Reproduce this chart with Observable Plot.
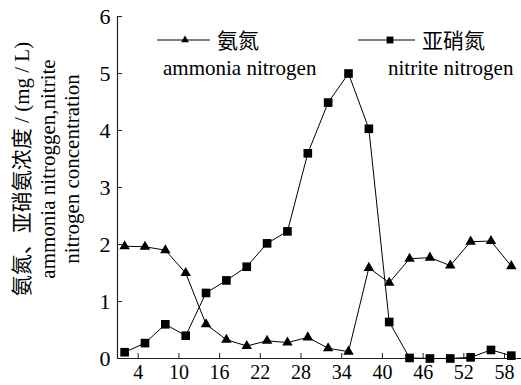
<!DOCTYPE html>
<html><head><meta charset="utf-8">
<script src="https://cdn.jsdelivr.net/npm/d3@7"></script>
<script src="https://cdn.jsdelivr.net/npm/@observablehq/plot@0.6"></script>
<style>
body{margin:0;background:#fff;}
#wrap{position:relative;width:521px;height:385px;font-family:"Liberation Serif","Times New Roman","DejaVu Serif",serif,"Noto Sans CJK SC";}
#wrap svg{position:absolute;left:0;top:0;}
</style></head><body><div id="wrap"></div>
<script>
const days = [2, 5, 8, 11, 14, 17, 20, 23, 26, 29, 32, 35, 38, 41, 44, 47, 50, 53, 56, 59];
const ammonia = [1.97, 1.96, 1.9, 1.5, 0.6, 0.33, 0.22, 0.31, 0.28, 0.37, 0.18, 0.12, 1.59, 1.33, 1.75, 1.77, 1.63, 2.05, 2.06, 1.62];
const nitrite = [0.11, 0.27, 0.6, 0.4, 1.15, 1.37, 1.61, 2.02, 2.23, 3.6, 4.49, 5.0, 4.03, 0.64, 0.01, 0.0, 0.0, 0.02, 0.15, 0.05];
const xTicks = [4, 10, 16, 22, 28, 34, 40, 46, 52, 58];
const yTicks = [0, 1, 2, 3, 4, 5, 6];
const seriesZh = ["氨氮", "亚硝氮"];
const seriesEn = ["ammonia nitrogen", "nitrite nitrogen"];
const yTitle = ["氨氮、亚硝氨浓度 / (mg / L)", "ammonia nitroggen,nitrite", "nitrogen concentration"];

const xDomain = [0.95, 60.5];
const data = days.map((d, i) => ({day: d, ammonia: ammonia[i], nitrite: nitrite[i]}));
const font = '"Liberation Serif","Times New Roman","DejaVu Serif",serif,"Noto Sans CJK SC"';

const chart = Plot.plot({
  width: 521, height: 385,
  marginLeft: 117, marginRight: 0, marginTop: 16, marginBottom: 27,
  style: {fontFamily: font, fontSize: "20px", color: "#000", background: "transparent", overflow: "visible"},
  x: {domain: xDomain},
  y: {domain: [0, 6]},
  marks: [
    Plot.ruleY([0], {stroke: "#222", strokeWidth: 1.2}),
    Plot.ruleX([xDomain[0]], {stroke: "#222", strokeWidth: 1.2}),
    Plot.axisY(yTicks, {tickSize: -5, tickPadding: 12, label: null, fontSize: 22, stroke: "#222", tickFormat: d => String(d)}),
    Plot.axisX(xTicks, {tickSize: -5, tickPadding: 11, label: null, fontSize: 20, stroke: "#222", tickFormat: d => String(d)}),
    Plot.line(data, {x: "day", y: "ammonia", stroke: "#000", strokeWidth: 1}),
    Plot.line(data, {x: "day", y: "nitrite", stroke: "#000", strokeWidth: 1}),
    Plot.dot(data, {x: "day", y: "ammonia", symbol: "triangle2", r: 5, fill: "#000"}),
    Plot.dot(data, {x: "day", y: "nitrite", symbol: "square2", r: 5.5, fill: "#000"})
  ]
});
const wrap = document.getElementById("wrap");
wrap.appendChild(chart);

// overlay: legend and y title
const ov = d3.select(wrap).append("svg").attr("width", 521).attr("height", 385)
  .style("font-family", font).style("pointer-events", "none");

const legend = [
  {x0: 157, x1: 210, mx: 185, sym: d3.symbolTriangle2, size: 42, tx: 217, ex: 163},
  {x0: 358, x1: 415, mx: 390, sym: d3.symbolSquare2, size: 60, tx: 422, ex: 388}
];
legend.forEach((l, i) => {
  ov.append("line").attr("x1", l.x0).attr("x2", l.x1).attr("y1", 40).attr("y2", 40)
    .attr("stroke", "#000").attr("stroke-width", 1);
  ov.append("path").attr("d", d3.symbol(l.sym, l.size)()).attr("transform", `translate(${l.mx},40)`).attr("fill", "#000");
  ov.append("text").attr("x", l.tx).attr("y", 41).attr("dominant-baseline", "central")
    .attr("font-size", 21).text(seriesZh[i]);
  ov.append("text").attr("x", l.ex).attr("y", 68).attr("dominant-baseline", "central")
    .attr("font-size", 21).text(seriesEn[i]);
});

const tx = [22, 48, 72];
yTitle.forEach((t, i) => {
  ov.append("text").attr("transform", `translate(${tx[i]},169) rotate(-90)`)
    .attr("text-anchor", "middle").attr("dominant-baseline", "central")
    .attr("font-size", 21).text(t);
});
</script></body></html>
